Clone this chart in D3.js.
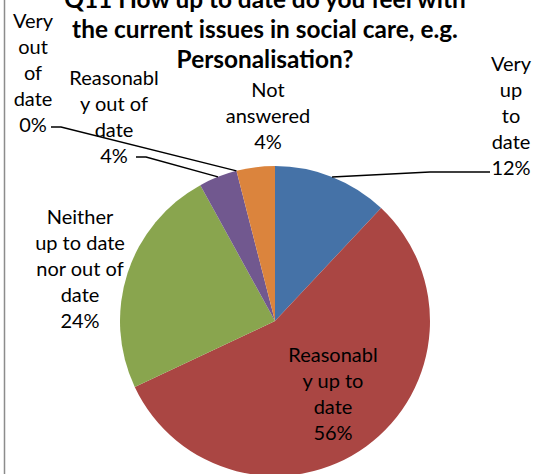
<!DOCTYPE html>
<html><head><meta charset="utf-8">
<script src="https://cdn.jsdelivr.net/npm/d3@7"></script>
<style>html,body{margin:0;padding:0;background:#fff;} svg{display:block;}</style>
</head><body>
<svg id="chart" width="542" height="474"></svg>
<script>
const categories = ["Very up to date","Reasonably up to date","Neither up to date nor out of date","Reasonably out of date","Very out of date","Not answered"];
const values = [12, 56, 24, 4, 0, 4];
const colors = ["#4572A7","#AA4643","#89A54E","#71588F","#4198AF","#DB843D"];
const labelLines = [
  ["Very","up","to","date","12%"],
  ["Reasonabl","y up to","date","56%"],
  ["Neither","up to date","nor out of","date","24%"],
  ["Reasonabl","y out of","date","4%"],
  ["Very","out","of","date","0%"],
  ["Not","answered","4%"]
];
const titleLines = ["Q11 How up to date do you feel with","the current issues in social care, e.g.","Personalisation?"];

// layout (not data)
const cx = 275, cy = 321, R = 155;
const labelPos = [
  {x:511, y:64}, {x:333, y:355}, {x:80, y:217}, {x:114, y:78}, {x:33, y:21}, {x:268, y:90}
];
const leaders = { 0:{lx:490, ly:172, dir:1}, 3:{lx:136, ly:157, dir:-1}, 4:{lx:51, ly:127, dir:-1} };

const svg = d3.select("#chart");
svg.append("line").attr("x1",4.5).attr("x2",4.5).attr("y1",0).attr("y2",474)
  .attr("stroke","#8c8c8c").attr("stroke-width",1.5);

const pie = d3.pie().sort(null).value(d=>d).startAngle(0).endAngle(2*Math.PI);
const arcs = pie(values);
const arc = d3.arc().innerRadius(0).outerRadius(R);
const g = svg.append("g").attr("transform",`translate(${cx},${cy})`);
g.selectAll("path").data(arcs).enter().append("path")
  .attr("d",arc).attr("fill",(d,i)=>colors[i]);

// leader lines
Object.keys(leaders).forEach(k=>{
  const i=+k, a=arcs[i], L=leaders[k];
  const ang=(a.startAngle+a.endAngle)/2;
  const px=cx+R*Math.sin(ang), py=cy-R*Math.cos(ang);
  const elbowX = L.lx + (L.dir<0 ? 10 : -60);
  svg.append("polyline")
    .attr("points",`${L.lx},${L.ly} ${elbowX},${L.ly} ${px},${py}`)
    .attr("fill","none").attr("stroke","#000").attr("stroke-width",1.5);
});

// labels
labelLines.forEach((lines,i)=>{
  const t = svg.append("text").attr("text-anchor","middle")
    .attr("font-family","Lato, 'Open Sans', sans-serif").attr("font-size",20).attr("fill","#000");
  lines.forEach((s,j)=>{
    t.append("tspan").attr("x",labelPos[i].x).attr("y",labelPos[i].y + j*26).attr("dy","0.35em").text(s);
  });
});

// title
const tt = svg.append("text").attr("text-anchor","middle")
  .attr("font-family","Lato, 'Open Sans', sans-serif").attr("font-weight","bold")
  .attr("font-size",24.4).attr("fill","#000");
titleLines.forEach((s,j)=>{
  tt.append("tspan").attr("x",265).attr("y",8 + j*30).text(s);
});
</script>
</body></html>
